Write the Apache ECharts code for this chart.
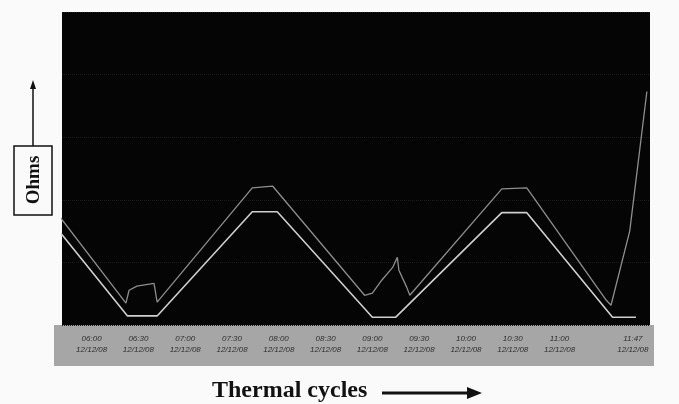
<!DOCTYPE html>
<html>
<head>
<meta charset="utf-8">
<script src="https://cdn.jsdelivr.net/npm/echarts@6/dist/echarts.min.js"></script>
<style>
  html, body { margin: 0; padding: 0; background: #fafafa; }
  #chart { width: 679px; height: 404px; }
</style>
</head>
<body>
<div id="chart"></div>
<script>
// tick positions on the time axis (12/12/08)
var tickTimes = ['06:00', '06:30', '07:00', '07:30', '08:00', '08:30', '09:00', '09:30', '10:00', '10:30', '11:00', '11:47']
var tickDate = '12/12/08'

// lower (brighter) trace, times + relative ohms
var lowerTimes = ['05:40', '06:23', '06:42', '07:43', '07:59', '09:00', '09:15', '10:23', '10:39', '11:34', '11:49']
var lowerValues = [29.5, 2.9, 2.9, 36.2, 36.2, 2.5, 2.5, 35.9, 35.9, 2.5, 2.5]

// upper (dimmer) trace
var upperTimes = ['05:40', '06:22', '06:24', '06:29', '06:36', '06:40', '06:42', '07:43', '07:56',
  '08:55', '09:00', '09:06', '09:13', '09:16', '09:17', '09:22', '09:24', '10:23', '10:39',
  '11:30', '11:33', '11:45', '11:56']
var upperValues = [34.3, 7.0, 11.1, 12.4, 13.0, 13.3, 7.3, 43.8, 44.4,
  9.5, 10.2, 14.3, 18.4, 21.6, 17.5, 12.1, 9.5, 43.5, 43.8,
  7.9, 6.3, 30, 74.6]

// minutes since midnight
function mins (hm) {
  var p = hm.split(':')
  return +p[0] * 60 + +p[1]
}
function pairs (times, vals) {
  return times.map(function (t, i) { return [mins(t), vals[i]] })
}

var chart = echarts.init(document.getElementById('chart'))
chart.setOption({
  backgroundColor: '#fafafa',
  animation: false,
  grid: { left: 62, right: 29, top: 12, bottom: 79, show: true, backgroundColor: '#050505', borderWidth: 0 },
  graphic: [
    // gray label strip under the plot
    { type: 'rect', z: -1, shape: { x: 54, y: 325, width: 600, height: 41 }, style: { fill: '#a6a6a6' } },
    // Ohms box
    { type: 'rect', shape: { x: 14, y: 146, width: 38, height: 69 }, style: { fill: 'none', stroke: '#111', lineWidth: 1.5 } },
    {
      type: 'text', x: 34, y: 180, rotation: Math.PI / 2,
      style: { text: 'Ohms', font: 'bold 19px "Liberation Serif"', fill: '#111', align: 'center', verticalAlign: 'middle' }
    },
    { type: 'line', shape: { x1: 33, y1: 146, x2: 33, y2: 86 }, style: { stroke: '#111', lineWidth: 1.5 } },
    { type: 'polygon', shape: { points: [[33, 80], [30, 89], [36, 89]] }, style: { fill: '#111' } },
    // Thermal cycles label + arrow
    {
      type: 'text', x: 212, y: 391,
      style: { text: 'Thermal cycles', font: 'bold 24px "Liberation Serif"', fill: '#111', verticalAlign: 'middle' }
    },
    { type: 'line', shape: { x1: 382, y1: 393, x2: 470, y2: 393 }, style: { stroke: '#111', lineWidth: 3 } },
    { type: 'polygon', shape: { points: [[482, 393], [467, 387], [467, 399]] }, style: { fill: '#111' } }
  ],
  xAxis: {
    type: 'value',
    min: mins('05:41'),
    max: mins('11:58'),
    axisLine: { show: false },
    axisTick: { show: false },
    splitLine: { show: false },
    axisLabel: {
      customValues: tickTimes.map(mins),
      margin: 8,
      fontSize: 8,
      lineHeight: 11,
      color: '#2e2e2e',
      fontStyle: 'italic',
      hideOverlap: false,
      formatter: function (v) {
        var hh = ('0' + Math.floor(v / 60)).slice(-2)
        var mm = ('0' + (v % 60)).slice(-2)
        return hh + ':' + mm + '\n' + tickDate
      }
    }
  },
  yAxis: {
    type: 'value',
    min: 0,
    max: 100,
    interval: 20,
    axisLine: { show: false },
    axisTick: { show: false },
    axisLabel: { show: false },
    splitLine: { lineStyle: { color: '#1a1a1a', type: 'dotted' } }
  },
  series: [
    {
      name: 'upper',
      type: 'line',
      data: pairs(upperTimes, upperValues),
      symbol: 'none',
      lineStyle: { color: '#8e8e8e', width: 1.3 }
    },
    {
      name: 'lower',
      type: 'line',
      data: pairs(lowerTimes, lowerValues),
      symbol: 'none',
      lineStyle: { color: '#cfcfcf', width: 1.6 }
    }
  ]
})
</script>
</body>
</html>
